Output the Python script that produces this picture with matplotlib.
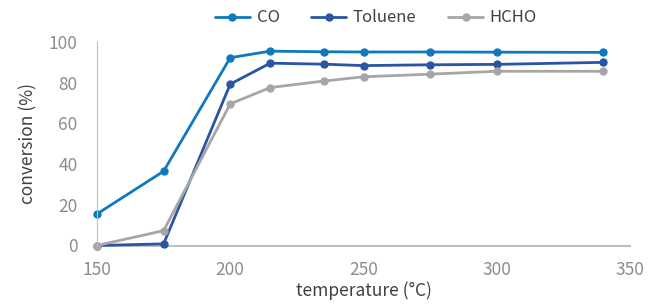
import matplotlib
matplotlib.use("Agg")
import matplotlib.pyplot as plt

temperature = [150, 175, 200, 215, 235, 250, 275, 300, 340]
co = [15.5, 36.5, 92.3, 95.5, 95.2, 95.1, 95.1, 95.0, 94.9]
toluene = [0, 0.8, 79.3, 89.6, 89.1, 88.4, 88.8, 89.0, 90.0]
hcho = [0, 7.3, 69.6, 77.6, 80.8, 82.9, 84.2, 85.6, 85.6]

series_names = ["CO", "Toluene", "HCHO"]
series_colors = ["#0f79bf", "#2a55a5", "#a6a6a6"]

plt.rcParams["font.family"] = ["Noto Sans CJK SC", "DejaVu Sans"]
plt.rcParams["font.weight"] = "light"

fig = plt.figure(figsize=(6.62, 3.05), dpi=100)
ax = fig.add_axes([97 / 662, 1 - 245.5 / 305, 533 / 662, 203.5 / 305])

for name, vals, color in zip(series_names, [co, toluene, hcho], series_colors):
    ax.plot(temperature, vals, color=color, lw=2.0, marker="o", ms=5, label=name,
            solid_capstyle="round", clip_on=False)

ax.set_xlim(150, 350)
ax.set_ylim(0, 100)
ax.set_xticks([150, 200, 250, 300, 350])
ax.set_yticks([0, 20, 40, 60, 80, 100])
ax.tick_params(length=0, labelsize=12.5, labelcolor="#8c8c8c")
ax.tick_params(axis="y", pad=14)
ax.tick_params(axis="x", pad=11)

for s in ["top", "right"]:
    ax.spines[s].set_visible(False)
ax.spines["left"].set_color("#bfbfbf")
ax.spines["left"].set_linewidth(0.8)
ax.spines["bottom"].set_color("#bfbfbf")
ax.spines["bottom"].set_linewidth(1.5)
ax.spines["bottom"].set_zorder(0)

ax.set_xlabel("temperature (°C)", fontsize=12.5, color="#404040", labelpad=2)
ax.set_ylabel("conversion (%)", fontsize=12.5, color="#404040", labelpad=8)

fig.legend(loc="center", bbox_to_anchor=(376 / 662, 1 - 18 / 305), ncol=3,
           frameon=False, fontsize=12, handlelength=2.1, columnspacing=1.9,
           handletextpad=0.4, labelcolor="#404040")

fig.savefig("out.png", dpi=100)
